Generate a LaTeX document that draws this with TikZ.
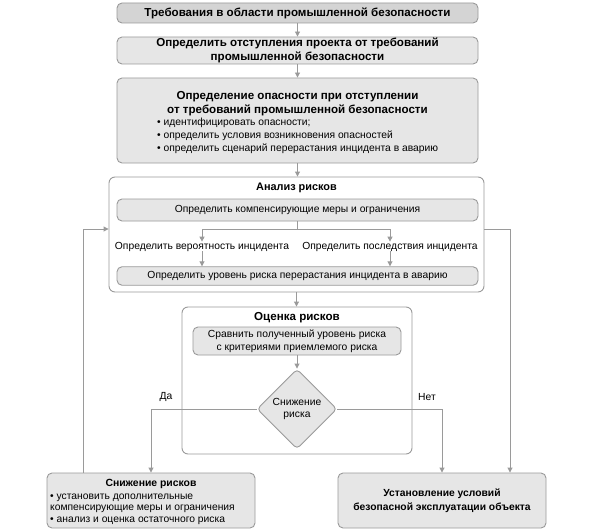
\documentclass[tikz,border=0pt]{standalone}
\usepackage{fontspec}
\setmainfont{Liberation Sans}
\usetikzlibrary{arrows.meta,shapes.geometric}
\definecolor{lc}{HTML}{9A9A9A}
\definecolor{fA}{HTML}{D4D4D4}
\definecolor{fB}{HTML}{E6E6E6}
\tikzset{
 box/.style={draw=lc, line width=0.9pt, fill=fB, rounded corners=5pt, inner sep=0pt, align=center},
 frame/.style={draw=lc, line width=0.9pt, fill=white, rounded corners=6pt, inner sep=0pt},
 conn/.style={draw=lc, line width=0.9pt, -{Triangle[length=5pt,width=5pt]}},
 tb/.style={font=\fontsize{11.6}{13.5}\selectfont\bfseries, align=center, inner sep=0pt},
 tr/.style={font=\fontsize{10.3}{12.5}\selectfont, align=center, inner sep=0pt},
 tl/.style={font=\fontsize{10.3}{13}\selectfont, align=left, inner sep=0pt},
}
\begin{document}
\begin{tikzpicture}[x=1pt,y=-1pt]
\useasboundingbox (0,0) rectangle (594,532);
% frames
\node[frame, minimum width=375, minimum height=115] (an) at (296.5,234.5) {};
\node[frame, minimum width=230, minimum height=147] (oc) at (297,380.5) {};
% top boxes
\node[box, fill=fA, minimum width=361, minimum height=20, tb] (b1) at (297.5,13) {Требования в области промышленной безопасности};
\node[box, minimum width=361, minimum height=27, tb] (b2) at (297.5,50.5) {Определить отступления проекта от требований\\промышленной безопасности};
\node[box, minimum width=361, minimum height=85] (b3) at (297.5,120.5) {};
\node[tb] (b3t) at (297.5,103.5) {Определение опасности при отступлении\\от требований промышленной безопасности};
\node[tl, anchor=west] (b3l) at (157,135.5) {• идентифицировать опасности;\\• определить условия возникновения опасностей\\• определить сценарий перерастания инцидента в аварию};
% analysis
\node[tb, font=\fontsize{10.9}{13}\selectfont\bfseries] (ant) at (296.5,187.5) {Анализ рисков};
\node[box, tr, minimum width=361, minimum height=22] (comp) at (297.5,210) {Определить компенсирующие меры и ограничения};
\node[tr] (lp) at (202,246.5) {Определить вероятность инцидента};
\node[tr] (ls) at (390,246.5) {Определить последствия инцидента};
\node[box, tr, minimum width=361, minimum height=18.5] (lev) at (297.5,276) {Определить уровень риска перерастания инцидента в аварию};
% assessment
\node[tb] (oct) at (297,317.5) {Оценка рисков};
\node[box, tr, minimum width=208, minimum height=28] (cmp) at (297,341) {Сравнить полученный уровень риска\\с критериями приемлемого риска};
\node[diamond, draw=lc, line width=0.9pt, fill=fB, rounded corners=4pt, minimum width=80, minimum height=80, inner sep=0pt, tr] (dia) at (297,409) {Снижение\\риска};
\node[tr] (da) at (166,397) {Да};
\node[tr] (net) at (427,397) {Нет};
% bottom boxes
\node[box, minimum width=208, minimum height=55] (sn) at (151,500.5) {};
\node[tb, font=\fontsize{10.4}{12}\selectfont\bfseries] (snt) at (151,484) {Снижение рисков};
\node[tl, font=\fontsize{10.3}{11.7}\selectfont, anchor=west] (snl) at (50,509) {• установить дополнительные\\компенсирующие меры и ограничения\\• анализ и оценка остаточного риска};
\node[box, tb, font=\fontsize{10.3}{14}\selectfont\bfseries, minimum width=208, minimum height=55] (ust) at (442,500.5) {Установление условий\\безопасной эксплуатации объекта};
% connectors
\coordinate (lx) at (83,229);
\coordinate (rx) at (510,229);
\coordinate (sp) at (297.5,229);
\draw[conn] (b1) -- (b2);
\draw[conn] (b2) -- (b3);
\draw[conn] (b3.south) -- (b3.south |- an.north);
\draw[conn] (comp.south) -- (sp) -| (lp.north);
\draw[conn] (sp) -| (ls.north);
\draw[conn] (lp.south) -- (lp.south |- lev.north);
\draw[conn] (ls.south) -- (ls.south |- lev.north);
\draw[conn] (an.south) -- (an.south |- oc.north);
\draw[conn] (cmp) -- (dia);
\draw[conn] (dia.west) -| (sn.north);
\draw[conn] (dia.east) -| (ust.north);
\draw[conn] (sn.north -| lx) -- (lx) -- (an.west |- lx);
\draw[conn] (an.east |- rx) -- (rx) -- (rx |- ust.north);
\end{tikzpicture}
\end{document}
